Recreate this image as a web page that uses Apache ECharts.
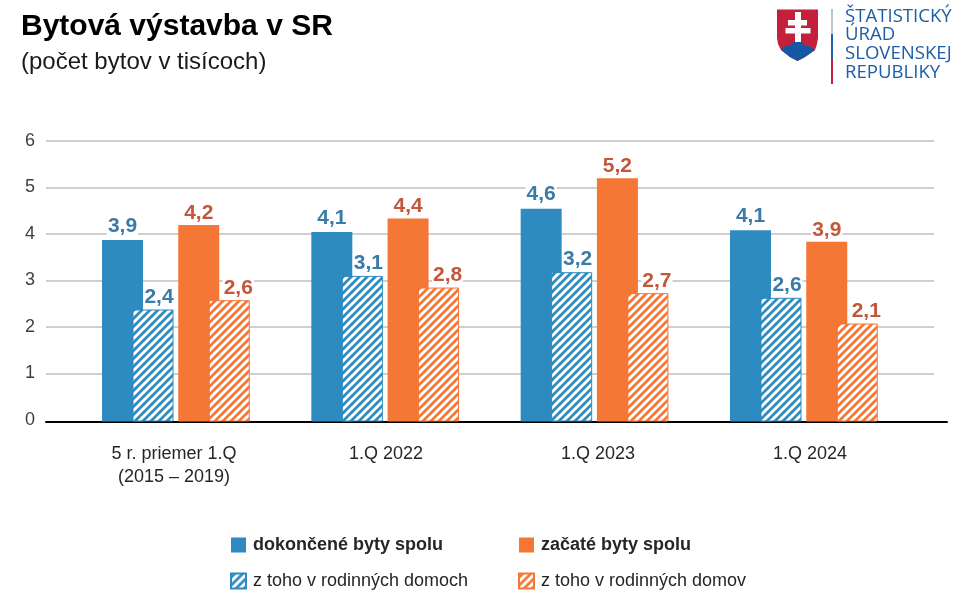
<!DOCTYPE html>
<html>
<head>
<meta charset="utf-8">
<style>html,body{margin:0;padding:0;background:#fff}#c{width:969px;height:604px}</style>
<script src="https://cdn.jsdelivr.net/npm/echarts@6/dist/echarts.min.js"></script>
</head>
<body>
<div id="c"></div>
<script>
const categories = ['5 r. priemer 1.Q\n(2015 – 2019)', '1.Q 2022', '1.Q 2023', '1.Q 2024'];
const yTicks = [0, 1, 2, 3, 4, 5, 6];
const nameDone = 'dokončené byty spolu';
const nameDoneHouses = 'z toho v rodinných domoch';
const nameStarted = 'začaté byty spolu';
const nameStartedHouses = 'z toho v rodinných domov';
const valDone = [3.89, 4.06, 4.56, 4.10];
const valDoneHouses = [2.40, 3.12, 3.20, 2.65];
const valStarted = [4.21, 4.35, 5.21, 3.85];
const valStartedHouses = [2.60, 2.87, 2.75, 2.10];
const lblDone = ['3,9', '4,1', '4,6', '4,1'];
const lblDoneHouses = ['2,4', '3,1', '3,2', '2,6'];
const lblStarted = ['4,2', '4,4', '5,2', '3,9'];
const lblStartedHouses = ['2,6', '2,8', '2,7', '2,1'];

const BLUE = '#2E8BC0', ORANGE = '#F47735', BLUE_T = '#3A7BA8', ORANGE_T = '#C2573A';
const FONT = '"Liberation Sans", Arial, sans-serif';

function hatch(color) {
  const n = 8, cv = document.createElement('canvas');
  cv.width = n; cv.height = n;
  const g = cv.getContext('2d');
  g.fillStyle = color; g.fillRect(0, 0, n, n);
  g.strokeStyle = '#fff'; g.lineWidth = 3; g.lineCap = 'square';
  [[-n, n, n, -n], [0, n, n, 0], [0, 2 * n, 2 * n, 0]].forEach(s => {
    g.beginPath(); g.moveTo(s[0], s[1]); g.lineTo(s[2], s[3]); g.stroke();
  });
  return { image: cv, repeat: 'repeat' };
}

const TOP = 141.5, H = 280, BW = 41, STEP = 837.33;
const gridOf = (left, width, top, height) => ({ left, width, top: top === undefined ? TOP : top, height: height === undefined ? H : height });
const grids = [
  gridOf(46, 888, 141, 279),       // gridlines + y labels
  gridOf(46, 901),                 // black baseline
  gridOf(68, 848),                 // category labels
  gridOf(137.75 - STEP / 8, STEP), // pair 1
  gridOf(214 - STEP / 8, STEP)     // pair 2
];
const mkX = (i, extra) => Object.assign({
  type: 'category', gridIndex: i, data: categories, show: true,
  axisTick: { show: false }, axisLabel: { show: false }, axisLine: { show: false }
}, extra);
const mkY = (i, extra) => Object.assign({
  type: 'value', gridIndex: i, min: 0, max: 6, interval: 1, show: true,
  axisLabel: { show: false }, axisLine: { show: false }, axisTick: { show: false }, splitLine: { show: false }
}, extra);

function barSeries(name, data, labels, axis, color, textColor, dx, dy, hatched) {
  return {
    type: 'bar', name, data, xAxisIndex: axis, yAxisIndex: axis,
    barWidth: BW, barGap: '-25.6%', z: hatched ? 3 : 2,
    itemStyle: hatched ? { color: hatch(color), borderColor: color, borderWidth: 1 } : { color },
    label: {
      show: true, position: 'top', distance: 2, offset: [dx, dy],
      formatter: p => labels[p.dataIndex],
      fontFamily: FONT, fontSize: 21, fontWeight: 'bold', color: textColor,
      backgroundColor: '#fff', padding: [0, 1, 0, 1]
    },
    emphasis: { disabled: true }, animation: false
  };
}

const legendBase = {
  orient: 'vertical', top: 531, itemWidth: 15, itemHeight: 15, itemGap: 18,
  icon: 'rect', selectedMode: false,
  textStyle: { fontFamily: FONT, fontSize: 18, color: '#262626', padding: [0, 0, 0, 2] }
};

const LOGO = '18.6px "Open Sans", sans-serif';
const chart = echarts.init(document.getElementById('c'), null, { renderer: 'canvas' });
chart.setOption({
  animation: false,
  backgroundColor: '#fff',
  textStyle: { fontFamily: FONT },
  grid: grids,
  xAxis: [
    mkX(0, {}),
    mkX(1, { axisLine: { show: true, lineStyle: { color: '#000', width: 2 } } }),
    mkX(2, { axisLabel: { show: true, margin: 21, fontFamily: FONT, fontSize: 18, color: '#262626', lineHeight: 23, interval: 0 } }),
    mkX(3, {}),
    mkX(4, {})
  ],
  yAxis: [
    mkY(0, {
      axisLabel: { show: true, margin: 11, padding: [2, 0, 0, 0], fontFamily: FONT, fontSize: 18, color: '#404040', formatter: v => yTicks.includes(v) ? String(v) : '' },
      splitLine: { show: true, showMinLine: false, lineStyle: { color: '#BFBFBF', width: 1.5 } }
    }),
    mkY(1, {}), mkY(2, {}), mkY(3, {}), mkY(4, {})
  ],
  legend: [
    Object.assign({}, legendBase, { left: 225, data: [
      { name: nameDone, textStyle: { fontWeight: 'bold' } }, { name: nameDoneHouses }] }),
    Object.assign({}, legendBase, { left: 513, data: [
      { name: nameStarted, textStyle: { fontWeight: 'bold' } }, { name: nameStartedHouses }] })
  ],
  series: [
    barSeries(nameDone, valDone, lblDone, 3, BLUE, BLUE_T, 0, -1.5, false),
    barSeries(nameDoneHouses, valDoneHouses, lblDoneHouses, 3, BLUE, BLUE_T, 6, 0, true),
    barSeries(nameStarted, valStarted, lblStarted, 4, ORANGE, ORANGE_T, 0, 0.5, false),
    barSeries(nameStartedHouses, valStartedHouses, lblStartedHouses, 4, ORANGE, ORANGE_T, 9, 0.5, true)
  ],
  graphic: [
    { type: 'text', left: 21, top: 12, style: { text: 'Bytová výstavba v SR', font: 'bold 30px ' + FONT, fill: '#000' } },
    { type: 'text', left: 21, top: 50, style: { text: '(počet bytov v tisícoch)', font: '24px ' + FONT, fill: '#1a1a1a' } },
    { type: 'polygon', shape: { points: [[777,9.5],[818,9.5],[818,38],[817,44],[815,50],[805,57],[797.5,61],[790,57],[781,50],[778,44],[777,38]] }, style: { fill: '#C4203B' } },
    { type: 'polygon', shape: { points: [[781,50],[784,47],[788,45],[791,45],[793,42],[797.5,41],[802,42],[804,45],[807,45],[811,47],[815,50],[805,57],[797.5,61],[790,57]] }, style: { fill: '#1457A3' } },
    { type: 'rect', shape: { x: 795, y: 12, width: 6, height: 30 }, style: { fill: '#fff' } },
    { type: 'rect', shape: { x: 788, y: 20, width: 19, height: 5.5 }, style: { fill: '#fff' } },
    { type: 'rect', shape: { x: 785.5, y: 28, width: 25, height: 5.5 }, style: { fill: '#fff' } },
    { type: 'rect', shape: { x: 831, y: 9, width: 2, height: 25 }, style: { fill: '#BFC4C4' } },
    { type: 'rect', shape: { x: 831, y: 34, width: 2, height: 25 }, style: { fill: '#1E62AE' } },
    { type: 'rect', shape: { x: 831, y: 59, width: 2, height: 25 }, style: { fill: '#C4203B' } },
    { type: 'text', left: 845, top: 7, style: { text: 'ŠTATISTICKÝ', font: LOGO, fill: '#1C5FA8' } },
    { type: 'text', left: 845, top: 25, style: { text: 'ÚRAD', font: LOGO, fill: '#1C5FA8' } },
    { type: 'text', left: 845, top: 44, style: { text: 'SLOVENSKEJ', font: LOGO, fill: '#1C5FA8' } },
    { type: 'text', left: 845, top: 63, style: { text: 'REPUBLIKY', font: LOGO, fill: '#1C5FA8' } }
  ]
});
</script>
</body>
</html>
